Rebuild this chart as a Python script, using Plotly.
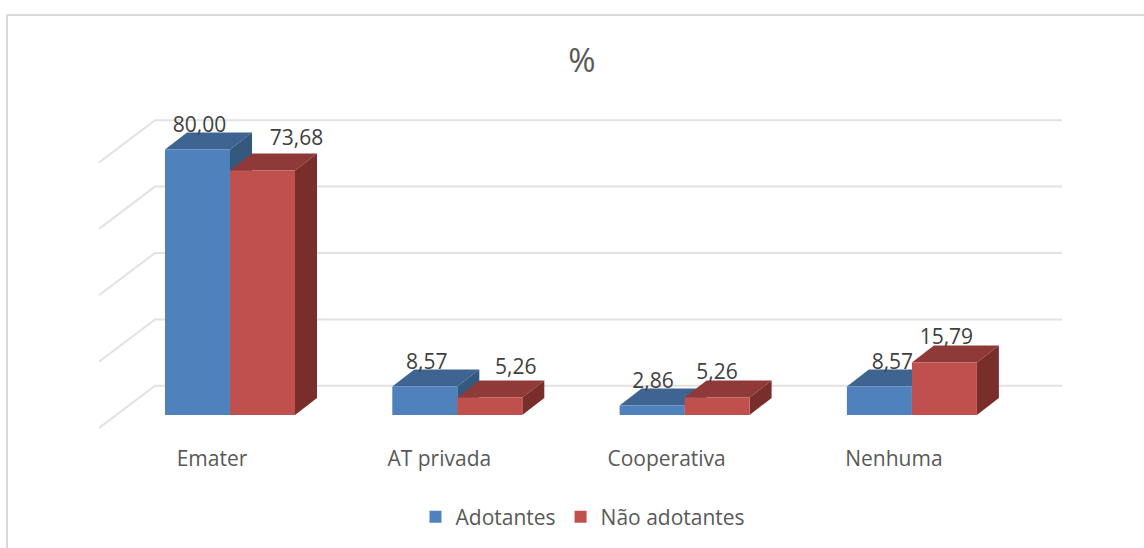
import plotly.graph_objects as go

categories = ["Emater", "AT privada", "Cooperativa", "Nenhuma"]
adotantes = [80.00, 8.57, 2.86, 8.57]
nao_adotantes = [73.68, 5.26, 5.26, 15.79]
grid_values = [0, 20, 40, 60, 80]

# pixel scale of the axes
PX_X = 227.3
PX_Y = 3.32
X0_PX = 230
Y0_PX = 415
DX = 22 / PX_X
DY = 17 / PX_Y
BAR_W = 65 / PX_X
FONT = "Open Sans"
BLUE, BLUE_TOP, BLUE_SIDE = "#4F81BD", "#3E6491", "#35587F"
RED, RED_TOP, RED_SIDE = "#C0504D", "#8F3A38", "#7A2E2C"


def fmt(v):
    return f"{v:.2f}".replace(".", ",")


def poly(pts, color):
    path = "M" + "L".join(f"{x},{y}" for x, y in pts) + "Z"
    return dict(type="path", path=path, xref="x", yref="y", fillcolor=color,
                line=dict(width=0), layer="below")


shapes = []
for g in grid_values:
    xa = (99 - X0_PX) / PX_X
    xb = (155 - X0_PX) / PX_X
    xc = (1062 - X0_PX) / PX_X
    path = f"M{xa},{g - 3.95}L{xb},{g + 8.8}L{xc},{g + 8.8}"
    shapes.append(dict(type="path", path=path, xref="x", yref="y",
                       line=dict(color="#E2E2E2", width=2), layer="below"))


def faces(i, v, left, top_c, side_c):
    right = left + BAR_W
    return [
        poly([(left, v), (right, v), (right + DX, v + DY), (left + DX, v + DY)], top_c),
        poly([(right, 0), (right, v), (right + DX, v + DY), (right + DX, DY)], side_c),
    ]


for i, v in enumerate(adotantes):
    shapes += faces(i, v, i - BAR_W, BLUE_TOP, BLUE_SIDE)
for i, v in enumerate(nao_adotantes):
    shapes += faces(i, v, i, RED_TOP, RED_SIDE)

# frame of the chart area
frame = dict(color="#D9D9D9", width=2)
shapes.append(dict(type="line", xref="paper", yref="paper", x0=7 / 1144, x1=1,
                   y0=1, y1=1, line=frame))
shapes.append(dict(type="line", xref="paper", yref="paper", x0=7 / 1144, x1=7 / 1144,
                   y0=1, y1=-116 / 417, line=frame))

fig = go.Figure()
x_pos = list(range(len(categories)))
fig.add_trace(go.Bar(name="Adotantes", x=x_pos, y=adotantes, marker=dict(color=BLUE, line=dict(width=0))))
fig.add_trace(go.Bar(name="Não adotantes", x=x_pos, y=nao_adotantes, marker=dict(color=RED, line=dict(width=0))))

# manual nudges of the value labels, in pixels (dx from bar centre, dy above front top)
blue_nudge = [(2, 23), (2, 23), (1, 23), (13, 23)]
red_nudge = [(34, 31), (26, 29), (0, 24), (2, 24)]
lx, ly, lt = [], [], []
for i, (v, (nx, ny)) in enumerate(zip(adotantes, blue_nudge)):
    lx.append(i - BAR_W / 2 + nx / PX_X)
    ly.append(v + ny / PX_Y)
    lt.append(fmt(v))
for i, (v, (nx, ny)) in enumerate(zip(nao_adotantes, red_nudge)):
    lx.append(i + BAR_W / 2 + nx / PX_X)
    ly.append(v + ny / PX_Y)
    lt.append(fmt(v))
fig.add_trace(go.Scatter(x=lx, y=ly, text=lt, mode="text", textposition="middle center",
                         textfont=dict(family=FONT, size=21, color="#404040"),
                         showlegend=False, hoverinfo="skip", cliponaxis=False))

fig.update_layout(
    width=1144, height=548,
    margin=dict(l=0, r=0, t=15, b=116, autoexpand=False),
    paper_bgcolor="white", plot_bgcolor="white",
    barmode="group", bargap=1 - 2 * BAR_W, bargroupgap=0,
    shapes=shapes,
    title=dict(text="%", x=582 / 1144, y=1 - 60 / 548, xanchor="center", yanchor="middle",
               xref="paper", yref="paper",
               font=dict(family=FONT, size=33, color="#595959")),
    xaxis=dict(range=[-X0_PX / PX_X, (1144 - X0_PX) / PX_X],
               tickmode="array", tickvals=[i - 18 / PX_X for i in x_pos], ticktext=categories,
               showgrid=False, zeroline=False, showline=False,
               ticks="outside", ticklen=8, tickcolor="rgba(0,0,0,0)",
               tickfont=dict(family=FONT, size=21, color="#595959")),
    yaxis=dict(range=[-17 / PX_Y, (Y0_PX - 15) / PX_Y], visible=False),
    legend=dict(orientation="h", x=583 / 1144, xanchor="center", y=-85 / 417, yanchor="middle",
                font=dict(family=FONT, size=21, color="#595959"),
                bgcolor="rgba(0,0,0,0)"),
    showlegend=True,
)
fig.write_html("out.html", config=dict(displayModeBar=False),
               post_script="document.body.style.margin='0';document.documentElement.style.overflow='hidden';")
